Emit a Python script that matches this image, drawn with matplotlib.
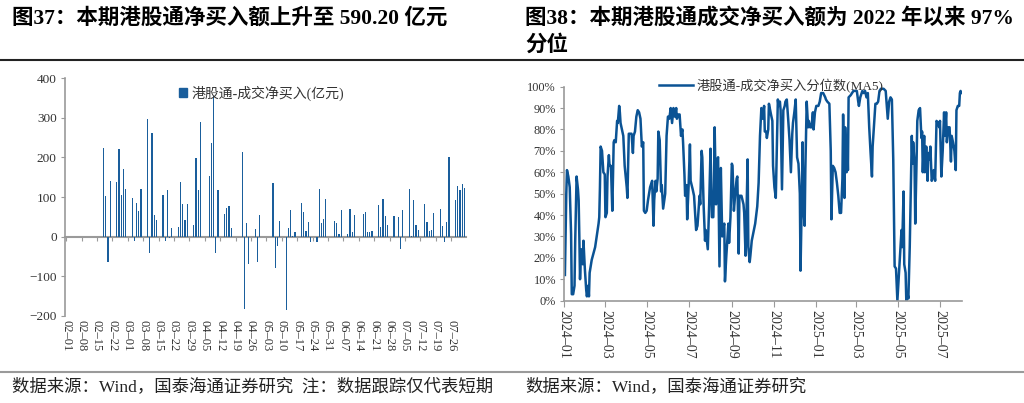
import numpy as np
import pandas as pd
import matplotlib
matplotlib.use('Agg')
import matplotlib.pyplot as plt
from matplotlib.patches import Patch
from matplotlib.lines import Line2D
from matplotlib.ticker import FuncFormatter

plt.rcParams['font.family'] = ['Liberation Serif', 'Noto Sans CJK SC']
plt.rcParams['axes.unicode_minus'] = True

# ---- left chart: daily southbound net buying, 2025 (亿元)
flow_days = ['02-18', '02-19', '02-20', '02-21',
             '02-24', '02-25', '02-26', '02-27', '02-28',
             '03-03', '03-04', '03-05', '03-06', '03-07',
             '03-10', '03-11', '03-12', '03-13', '03-14',
             '03-17', '03-18', '03-19', '03-20', '03-21',
             '03-24', '03-25', '03-26', '03-27', '03-28',
             '03-31', '04-01', '04-02', '04-03',
             '04-07', '04-08', '04-09', '04-10', '04-11',
             '04-14', '04-15', '04-16', '04-17',
             '04-22', '04-23', '04-24', '04-25',
             '04-28', '04-29', '04-30',
             '05-06', '05-07', '05-08', '05-09',
             '05-12', '05-13', '05-14', '05-15', '05-16',
             '05-19', '05-20', '05-21', '05-22', '05-23',
             '05-26', '05-27', '05-28', '05-29', '05-30',
             '06-03', '06-04', '06-05', '06-06',
             '06-09', '06-10', '06-11', '06-12',
             '06-16', '06-17', '06-18', '06-19', '06-20',
             '06-23', '06-24', '06-25', '06-26', '06-27',
             '06-30', '07-02', '07-03', '07-04',
             '07-07', '07-08', '07-09', '07-10', '07-11',
             '07-14', '07-15', '07-16', '07-17', '07-18',
             '07-21', '07-22', '07-23', '07-24', '07-25',
             '07-28', '07-29', '07-30', '07-31', '08-01']
flow_vals = [225, 103, -63, 141,
             138, 221, 105, 170, 120,
             98, -12, 84, 65, 121,
             297, -40, 263, 55, 43,
             105, -10, 118, -4, 22,
             25, 138, 83, 42, 83,
             30, 198, 118, 289,
             154, 237, 354, -40, 118,
             57, 73, 78, 23,
             214, -183, 34, -70,
             20, -65, 56,
             135, -78, -24, 40,
             -186, 22, 68, 3, 11,
             84, 62, 14, 38, -13,
             -14, 120, 34, 44, 96,
             40, 35, 8, 67,
             7, 70, 12, 56,
             57, 62, 12, 13, 14,
             79, 25, 95, 53, 30,
             52, 51, -30, 67,
             121, 3, 93, 29, 17,
             82, 37, 14, 16, 59,
             70, 27, -14, 36, 202,
             93, 127, 117, 132, 122]
flow_ticks = ['02-01', '02-08', '02-15', '02-22', '03-01', '03-08', '03-15',
              '03-22', '03-29', '04-05', '04-12', '04-19', '04-26', '05-03',
              '05-10', '05-17', '05-24', '05-31', '06-07', '06-14', '06-21',
              '06-28', '07-05', '07-12', '07-19', '07-26']

# ---- right chart: percentile of net buying since 2022 (MA5), %
pct_dates = [
    '2024-01-02', '2024-01-04', '2024-01-05', '2024-01-07', '2024-01-09', '2024-01-11',
    '2024-01-12', '2024-01-14', '2024-01-16', '2024-01-17', '2024-01-19', '2024-01-21',
    '2024-01-22', '2024-01-23', '2024-01-24', '2024-01-25', '2024-01-26', '2024-01-28',
    '2024-01-29', '2024-01-31', '2024-02-02', '2024-02-03', '2024-02-05', '2024-02-06',
    '2024-02-07', '2024-02-10', '2024-02-15', '2024-02-20', '2024-02-21', '2024-02-22',
    '2024-02-23', '2024-02-25', '2024-02-27', '2024-02-29', '2024-03-01', '2024-03-03',
    '2024-03-04', '2024-03-06', '2024-03-07', '2024-03-09', '2024-03-11', '2024-03-13',
    '2024-03-14', '2024-03-16', '2024-03-18', '2024-03-19', '2024-03-21', '2024-03-22',
    '2024-03-23', '2024-03-25', '2024-03-27', '2024-03-29', '2024-04-01', '2024-04-02',
    '2024-04-04', '2024-04-06', '2024-04-08', '2024-04-10', '2024-04-11', '2024-04-13',
    '2024-04-15', '2024-04-17', '2024-04-19', '2024-04-21', '2024-04-23', '2024-04-25',
    '2024-04-26', '2024-04-28', '2024-04-30', '2024-05-02', '2024-05-05', '2024-05-08',
    '2024-05-10', '2024-05-11', '2024-05-13', '2024-05-14', '2024-05-16', '2024-05-17',
    '2024-05-19', '2024-05-21', '2024-05-22', '2024-05-24', '2024-05-27', '2024-05-29',
    '2024-05-31', '2024-06-02', '2024-06-04', '2024-06-06', '2024-06-08', '2024-06-10',
    '2024-06-12', '2024-06-13', '2024-06-15', '2024-06-17', '2024-06-19', '2024-06-21',
    '2024-06-22', '2024-06-24', '2024-06-25', '2024-06-27', '2024-06-28', '2024-06-30',
    '2024-07-02', '2024-07-03', '2024-07-06', '2024-07-08', '2024-07-11', '2024-07-13',
    '2024-07-16', '2024-07-17', '2024-07-19', '2024-07-20', '2024-07-22', '2024-07-24',
    '2024-07-25', '2024-07-28', '2024-07-30', '2024-08-01', '2024-08-03', '2024-08-05',
    '2024-08-06', '2024-08-07', '2024-08-09', '2024-08-11', '2024-08-12', '2024-08-14',
    '2024-08-16', '2024-08-18', '2024-08-19', '2024-08-21', '2024-08-22', '2024-08-24',
    '2024-08-27', '2024-08-28', '2024-08-30', '2024-09-01', '2024-09-02', '2024-09-04',
    '2024-09-06', '2024-09-08', '2024-09-09', '2024-09-11', '2024-09-12', '2024-09-15',
    '2024-09-18', '2024-09-19', '2024-09-21', '2024-09-22', '2024-09-24', '2024-09-25',
    '2024-09-27', '2024-09-28', '2024-09-30', '2024-10-05', '2024-10-08', '2024-10-10',
    '2024-10-12', '2024-10-14', '2024-10-16', '2024-10-18', '2024-10-19', '2024-10-21',
    '2024-10-22', '2024-10-24', '2024-10-25', '2024-10-28', '2024-10-30', '2024-10-31',
    '2024-11-02', '2024-11-04', '2024-11-05', '2024-11-07', '2024-11-08', '2024-11-10',
    '2024-11-11', '2024-11-13', '2024-11-15', '2024-11-17', '2024-11-18', '2024-11-20',
    '2024-11-22', '2024-11-24', '2024-11-26', '2024-11-28', '2024-11-29', '2024-12-01',
    '2024-12-03', '2024-12-05', '2024-12-07', '2024-12-09', '2024-12-10', '2024-12-12',
    '2024-12-13', '2024-12-14', '2024-12-16', '2024-12-17', '2024-12-19', '2024-12-21',
    '2024-12-22', '2024-12-24', '2024-12-26', '2024-12-28', '2024-12-29', '2024-12-31',
    '2025-01-02', '2025-01-05', '2025-01-07', '2025-01-09', '2025-01-12', '2025-01-15',
    '2025-01-16', '2025-01-18', '2025-01-21', '2025-01-23', '2025-01-24', '2025-01-26',
    '2025-01-28', '2025-01-30', '2025-02-01', '2025-02-03', '2025-02-05', '2025-02-07',
    '2025-02-09', '2025-02-10', '2025-02-12', '2025-02-13', '2025-02-15', '2025-02-16',
    '2025-02-17', '2025-02-18', '2025-02-21', '2025-02-23', '2025-02-25', '2025-02-27',
    '2025-03-02', '2025-03-04', '2025-03-05', '2025-03-07', '2025-03-10', '2025-03-12',
    '2025-03-14', '2025-03-16', '2025-03-18', '2025-03-20', '2025-03-22', '2025-03-24',
    '2025-03-25', '2025-03-27', '2025-03-29', '2025-03-31', '2025-04-02', '2025-04-04',
    '2025-04-06', '2025-04-10', '2025-04-13', '2025-04-16', '2025-04-18', '2025-04-20',
    '2025-04-22', '2025-04-24', '2025-04-26', '2025-04-28', '2025-04-30', '2025-05-02',
    '2025-05-04', '2025-05-06', '2025-05-07', '2025-05-09', '2025-05-10', '2025-05-12',
    '2025-05-13', '2025-05-15', '2025-05-16', '2025-05-18', '2025-05-19', '2025-05-21',
    '2025-05-22', '2025-05-23', '2025-05-25', '2025-05-26', '2025-05-28', '2025-05-29',
    '2025-05-31', '2025-06-02', '2025-06-04', '2025-06-05', '2025-06-06', '2025-06-08',
    '2025-06-09', '2025-06-11', '2025-06-13', '2025-06-14', '2025-06-16', '2025-06-17',
    '2025-06-19', '2025-06-20', '2025-06-22', '2025-06-24', '2025-06-26', '2025-06-28',
    '2025-06-30', '2025-07-01', '2025-07-03', '2025-07-05', '2025-07-07', '2025-07-08',
    '2025-07-10', '2025-07-11', '2025-07-13', '2025-07-15', '2025-07-17', '2025-07-18',
    '2025-07-20', '2025-07-22', '2025-07-24', '2025-07-25', '2025-07-27', '2025-07-29',
    '2025-07-30', '2025-07-31', '2025-08-01']
pct_vals = [
    12, 50, 61, 58, 53, 31,
    3, 3, 7, 28, 58, 52,
    47, 30, 10, 19, 24, 17,
    28, 15, 5, 2, 7, 2,
    13, 19, 25, 36, 39, 53,
    72, 70, 60, 59, 39, 41,
    58, 68, 63, 63, 42, 74,
    75, 74, 84, 83, 91, 88,
    83, 80, 77, 63, 53, 48,
    78, 78, 78, 69, 77, 79,
    86, 89, 88, 85, 72, 74,
    42, 41, 42, 47, 53, 56,
    35, 47, 56, 51, 57, 79,
    75, 51, 54, 43, 50, 77,
    86, 85, 90, 83, 90, 86,
    90, 85, 87, 87, 77, 80,
    74, 59, 49, 54, 38, 53,
    73, 56, 52, 49, 33, 35,
    49, 45, 70, 67, 44, 28,
    33, 24, 45, 71, 39, 39,
    53, 81, 45, 66, 67, 16,
    62, 30, 33, 36, 9, 21,
    36, 27, 39, 64, 63, 42,
    50, 57, 58, 22, 49, 49,
    45, 41, 21, 35, 66, 25,
    18, 21, 28, 36, 44, 55,
    77, 90, 85, 91, 79, 79,
    76, 80, 92, 87, 84, 63,
    53, 48, 64, 94, 91, 93,
    89, 52, 89, 91, 93, 94,
    85, 75, 60, 78, 83, 88,
    94, 67, 64, 50, 14, 50,
    74, 44, 35, 61, 93, 81,
    84, 81, 81, 88, 80, 88,
    91, 91, 93, 97, 97, 95,
    94, 93, 92, 70, 38, 63,
    62, 60, 55, 49, 41, 41,
    57, 87, 48, 81, 60, 76,
    61, 95, 96, 97, 98, 98,
    98, 93, 91, 95, 98, 97,
    98, 95, 97, 81, 69, 58,
    72, 82, 92, 92, 93, 98,
    99, 99, 98, 85, 93, 95,
    94, 66, 16, 15, 0, 11,
    22, 33, 25, 51, 17, 13,
    0, 3, 1, 25, 42, 77,
    64, 74, 64, 36, 66, 84,
    89, 90, 76, 79, 60, 77,
    60, 72, 56, 69, 66, 72,
    56, 57, 61, 56, 84, 83,
    81, 84, 58, 70, 88, 77,
    88, 74, 81, 81, 65, 77,
    74, 70, 61, 89, 91, 91,
    97, 98, 97]
pct_ticks = ['2024-01', '2024-03', '2024-05', '2024-07', '2024-09', '2024-11',
             '2025-01', '2025-03', '2025-05', '2025-07']

bar_color = '#1a5e9c'
line_color = '#0b5394'
spine_color = '#9a9a9a'
text_color = '#333333'

fig = plt.figure(figsize=(10.24, 4.03), dpi=100)

# ---------------- left chart
ax1 = fig.add_axes([0.0635, 0.216, 0.3916, 0.5898])
x1 = pd.to_datetime(['2025-' + d for d in flow_days])
ax1.bar(x1, flow_vals, width=0.55, color=bar_color, linewidth=0)
ax1.set_ylim(-200, 400)
ax1.set_yticks(range(-200, 401, 100))
ax1.set_xlim(pd.Timestamp('2025-01-31 12:00'), pd.Timestamp('2025-08-01 18:00'))
t1 = pd.to_datetime(['2025-' + d for d in flow_ticks])
ax1.set_xticks(t1)
ax1.set_xticklabels([d.replace('-', '–') for d in flow_ticks], rotation=-90,
                    fontsize=9, color=text_color)
ax1.tick_params(axis='x', length=0, pad=3)
ax1.tick_params(axis='y', direction='out', length=3, color=spine_color,
                labelsize=9.5, labelcolor=text_color, pad=3)
for s in ['top', 'right', 'bottom']:
    ax1.spines[s].set_visible(False)
ax1.spines['left'].set_color(spine_color)
ax1.spines['left'].set_linewidth(1.2)

# zero line with weekly ticks
zero_ax = ax1.secondary_xaxis(200 / 600)
zero_ax.set_xticks(t1)
zero_ax.set_xticklabels([])
zero_ax.tick_params(axis='x', direction='out', length=3, color=spine_color)
zero_ax.spines['bottom'].set_color(spine_color)
zero_ax.spines['bottom'].set_linewidth(1.5)

ax1.legend(handles=[Patch(color=bar_color, label='港股通-成交净买入(亿元)')],
           loc='center left', bbox_to_anchor=(172 / 1024, 1 - 93 / 403),
           bbox_transform=fig.transFigure, frameon=False, fontsize=10,
           handlelength=0.6, handleheight=0.6, handletextpad=0.3,
           borderpad=0, labelcolor=text_color)

# ---------------- right chart
ax2 = fig.add_axes([0.551, 0.254, 0.3884, 0.531])
x2 = pd.to_datetime(pct_dates)
ax2.plot(x2, np.array(pct_vals) / 100, color=line_color, lw=1.8,
         label='港股通-成交净买入分位数(MA5)')
ax2.set_ylim(0, 1)
ax2.set_yticks(np.arange(0, 1.01, 0.1))
ax2.yaxis.set_major_formatter(FuncFormatter(lambda v, p: f'{v * 100:.0f}%'))
ax2.set_xlim(pd.Timestamp('2024-01-01'), pd.Timestamp('2025-08-02'))
t2 = pd.to_datetime([d + '-01' for d in pct_ticks])
ax2.set_xticks(t2)
ax2.set_xticklabels([d.replace('-', '–') for d in pct_ticks], rotation=-90,
                    fontsize=10, color=text_color)
ax2.tick_params(axis='x', direction='out', length=4, color=spine_color, pad=3)
ax2.tick_params(axis='y', direction='out', length=3, color=spine_color,
                labelsize=8.8, labelcolor=text_color, pad=3)
for s in ['top', 'right']:
    ax2.spines[s].set_visible(False)
for s in ['left', 'bottom']:
    ax2.spines[s].set_color(spine_color)
    ax2.spines[s].set_linewidth(1.2)
ax2.legend(loc='center left', bbox_to_anchor=(652 / 1024, 1 - 86 / 403),
           bbox_transform=fig.transFigure, frameon=False, fontsize=9.5,
           handlelength=2.6, handletextpad=0.3, borderpad=0,
           labelcolor=text_color)

# ---------------- titles, rules, sources
fig.text(12 / 1024, 1 - 18 / 403, '图37：本期港股通净买入额上升至 590.20 亿元',
         fontsize=15.5, fontweight='bold', va='center', ha='left')
fig.text(525 / 1024, 1 - 18 / 403, '图38：本期港股通成交净买入额为 2022 年以来 97%',
         fontsize=15.5, fontweight='bold', va='center', ha='left')
fig.text(525 / 1024, 1 - 45 / 403, '分位',
         fontsize=15.5, fontweight='bold', va='center', ha='left')

fig.add_artist(Line2D([0, 1], [1 - 60 / 403] * 2, color='#222222', lw=1.5))
fig.add_artist(Line2D([0, 1], [1 - 372 / 403] * 2, color='#9a9a9a', lw=1.5))

fig.text(12 / 1024, 1 - 387 / 403, '数据来源：Wind，国泰海通证券研究  注：数据跟踪仅代表短期',
         fontsize=12.5, va='center', ha='left', color='#222222')
fig.text(525 / 1024, 1 - 387 / 403, '数据来源：Wind，国泰海通证券研究',
         fontsize=12.5, va='center', ha='left', color='#222222')

fig.savefig('out.png', dpi=100)
